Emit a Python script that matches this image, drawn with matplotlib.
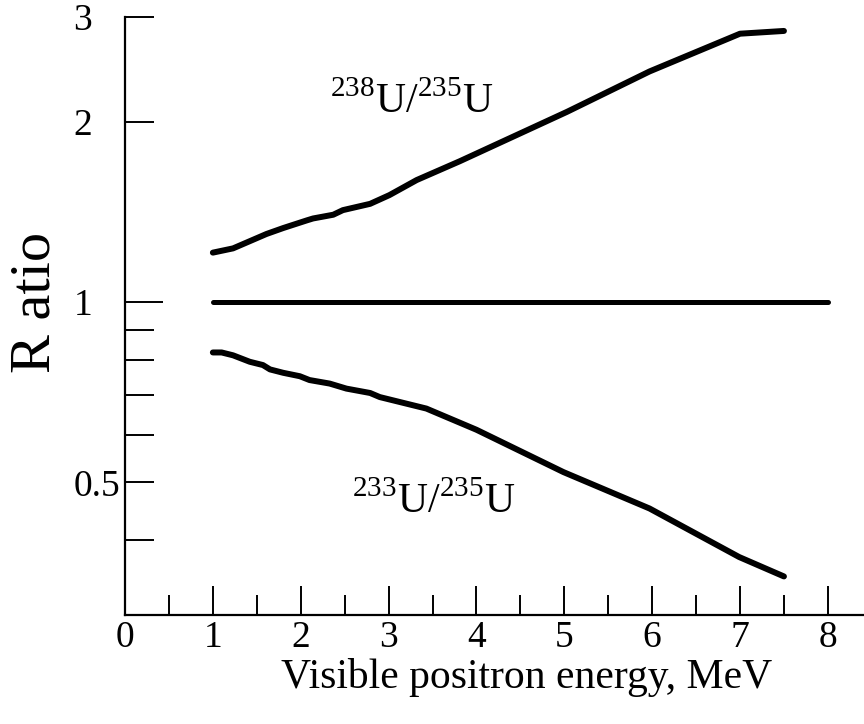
import matplotlib
matplotlib.use("Agg")
import matplotlib.pyplot as plt
from matplotlib.ticker import FixedLocator, FixedFormatter, NullFormatter

# Werte
energy_238 = [1.0, 1.23, 1.61, 1.8, 2.07, 2.14, 2.37, 2.48, 2.79, 3.01, 3.32, 3.81, 5.03, 5.97, 7.0, 7.5]
ratio_238 = [1.21, 1.23, 1.30, 1.33, 1.37, 1.38, 1.40, 1.425, 1.46, 1.51, 1.60, 1.72, 2.08, 2.43, 2.81, 2.84]

energy_233 = [1.0, 1.10, 1.23, 1.42, 1.57, 1.65, 1.80, 1.99, 2.10, 2.33, 2.52, 2.79, 2.90, 3.43,
              4.0, 4.99, 5.97, 6.99, 7.5]
ratio_233 = [0.824, 0.824, 0.815, 0.795, 0.785, 0.772, 0.762, 0.752, 0.741, 0.731, 0.717, 0.705,
             0.694, 0.664, 0.612, 0.520, 0.452, 0.375, 0.348]

energy_ref = [1.0, 8.0]
ratio_ref = [1.0, 1.0]

x_major = [0, 1, 2, 3, 4, 5, 6, 7, 8]
x_minor = [0.5, 1.5, 2.5, 3.5, 4.5, 5.5, 6.5, 7.5]
y_minor = [0.4, 0.5, 0.6, 0.7, 0.8, 0.9, 2, 3]
y_minor_labels = ["", "0.5", "", "", "", "", "2", "3"]

plt.rcParams['font.family'] = ['Liberation Serif', 'DejaVu Serif']
plt.rcParams['mathtext.fontset'] = 'custom'
plt.rcParams['mathtext.rm'] = 'Liberation Serif'

fig = plt.figure(figsize=(8.64, 7.24), dpi=100)
ax = fig.add_axes([125 / 864, 109 / 724, 739 / 864, 598.3 / 724])

ax.plot(energy_238, ratio_238, color='black', lw=4.3, solid_capstyle='round', solid_joinstyle='round')
ax.plot(energy_233, ratio_233, color='black', lw=4.3, solid_capstyle='round', solid_joinstyle='round')
ax.plot(energy_ref, ratio_ref, color='black', lw=3.6, solid_capstyle='round')

ax.set_yscale('log')
ax.set_ylim(0.3, 3)
ax.set_xlim(0, 739 / 87.86)

for s in ['top', 'right']:
    ax.spines[s].set_visible(False)
for s in ['left', 'bottom']:
    ax.spines[s].set_linewidth(1.6)

ax.xaxis.set_major_locator(FixedLocator(x_major))
ax.xaxis.set_minor_locator(FixedLocator(x_minor))
ax.xaxis.set_minor_formatter(NullFormatter())
ax.tick_params(axis='x', which='major', direction='in', length=20.9, width=1.4, pad=4, labelsize=27)
ax.tick_params(axis='x', which='minor', direction='in', length=14.4, width=1.4)

# Haupt-Tick nur bei 1 (laenger), die anderen als Minor-Ticks
ax.yaxis.set_major_locator(FixedLocator([1]))
ax.yaxis.set_major_formatter(FixedFormatter(["1"]))
ax.yaxis.set_minor_locator(FixedLocator(y_minor))
ax.yaxis.set_minor_formatter(FixedFormatter(y_minor_labels))
ax.tick_params(axis='y', which='major', direction='in', length=27.4, width=1.4, pad=37, labelsize=27)
ax.tick_params(axis='y', which='minor', direction='in', length=20.9, width=1.4, pad=37, labelsize=27)
for lab in ax.yaxis.get_ticklabels(which='both'):
    lab.set_horizontalalignment('left')

ax.set_xlabel('Visible positron energy, MeV', fontsize=30)
ax.xaxis.set_label_coords(0.544, -0.105)
ax.xaxis.label.set_va('center')
fig.text(35 / 864, 1 - 302 / 724, 'R atio', rotation=90, fontsize=42, ha='center', va='center')

ax.text(2.33, 2.07, r'$^{238}\mathrm{U}/^{235}\mathrm{U}$', fontsize=30, ha='left', va='baseline')
ax.text(2.58, 0.445, r'$^{233}\mathrm{U}/^{235}\mathrm{U}$', fontsize=30, ha='left', va='baseline')

fig.savefig('out.png', dpi=100)
